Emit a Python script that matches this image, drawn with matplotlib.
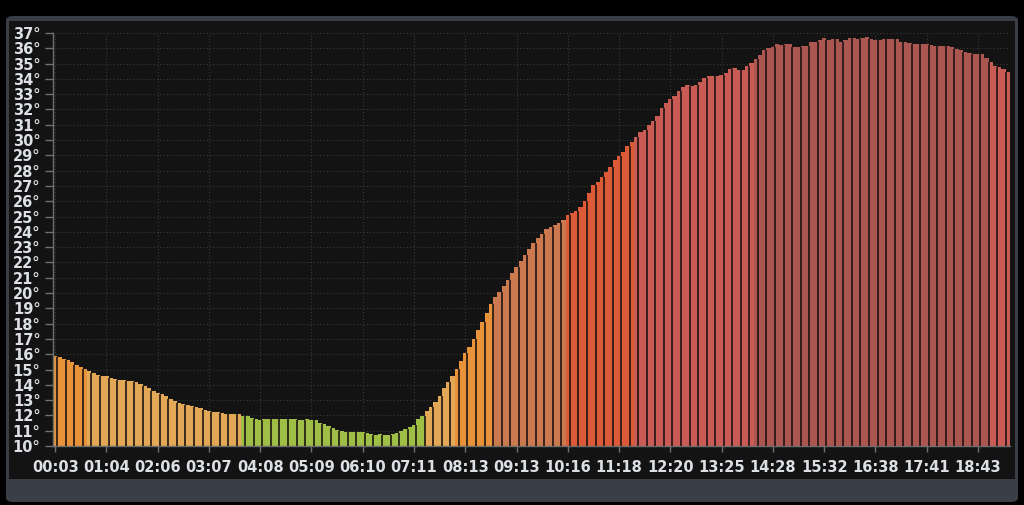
import matplotlib
matplotlib.use('Agg')
import matplotlib.pyplot as plt
from matplotlib.patches import FancyBboxPatch, Rectangle
import numpy as np

# temperature readings, one every ~5 minutes
temps = [
    15.90, 15.82, 15.69, 15.60, 15.47, 15.29, 15.16, 15.05, 14.88, 14.77,
    14.66, 14.58, 14.58, 14.47, 14.38, 14.34, 14.34, 14.27, 14.27, 14.18,
    14.07, 13.90, 13.81, 13.62, 13.49, 13.38, 13.25, 13.05, 12.92, 12.81,
    12.72, 12.66, 12.60, 12.55, 12.46, 12.35, 12.29, 12.24, 12.22, 12.16,
    12.11, 12.11, 12.07, 12.07, 11.98, 11.94, 11.80, 11.79, 11.70, 11.76,
    11.76, 11.79, 11.79, 11.79, 11.79, 11.79, 11.76, 11.68, 11.68, 11.79,
    11.72, 11.68, 11.53, 11.42, 11.31, 11.20, 11.07, 10.96, 10.89, 10.89,
    10.89, 10.89, 10.89, 10.85, 10.78, 10.74, 10.78, 10.72, 10.72, 10.76,
    10.83, 10.98, 11.09, 11.26, 11.39, 11.76, 11.96, 12.27, 12.55, 12.88,
    13.27, 13.77, 14.18, 14.58, 15.03, 15.58, 16.08, 16.45, 16.99, 17.56,
    18.08, 18.67, 19.26, 19.72, 20.09, 20.46, 20.85, 21.29, 21.72, 22.09,
    22.48, 22.85, 23.29, 23.62, 23.86, 24.16, 24.34, 24.44, 24.60, 24.77,
    25.10, 25.20, 25.36, 25.64, 26.03, 26.56, 27.06, 27.28, 27.60, 27.93,
    28.21, 28.69, 28.98, 29.19, 29.61, 29.89, 30.22, 30.54, 30.65, 30.98,
    31.26, 31.57, 32.07, 32.44, 32.66, 32.88, 33.18, 33.50, 33.60, 33.53,
    33.60, 33.81, 34.03, 34.18, 34.18, 34.18, 34.25, 34.40, 34.64, 34.68,
    34.58, 34.58, 34.84, 35.05, 35.29, 35.56, 35.88, 35.99, 36.10, 36.25,
    36.20, 36.25, 36.25, 36.10, 36.10, 36.16, 36.16, 36.38, 36.38, 36.53,
    36.69, 36.53, 36.58, 36.60, 36.43, 36.53, 36.69, 36.69, 36.60, 36.69,
    36.71, 36.60, 36.53, 36.53, 36.60, 36.60, 36.60, 36.60, 36.43, 36.38,
    36.32, 36.27, 36.27, 36.27, 36.27, 36.21, 36.16, 36.16, 36.16, 36.12,
    36.06, 35.95, 35.88, 35.77, 35.71, 35.60, 35.60, 35.60, 35.34, 35.12,
    34.86, 34.75, 34.64, 34.47,
]

tick_labels = ['00:03', '01:04', '02:06', '03:07', '04:08', '05:09', '06:10',
               '07:11', '08:13', '09:13', '10:16', '11:18', '12:20', '13:25',
               '14:28', '15:32', '16:38', '17:41', '18:43']
tick_every = 12

# colour bands by temperature
band_limits = [12, 15, 19.5, 25, 30, 35.2]
band_colors = ['#9fbe45', '#e2a855', '#e8923a', '#cd7950', '#dc5b36',
               '#c95b55', '#ab5651']


def temp_color(t):
    for lim, c in zip(band_limits, band_colors):
        if t < lim:
            return c
    return band_colors[-1]


bg = '#131313'
fig = plt.figure(figsize=(10.24, 5.05), dpi=100, facecolor='black')

# panel frame
fig.patches.append(FancyBboxPatch((6 / 1024, 3 / 505), 1012 / 1024, 486 / 505,
                                  boxstyle='round,pad=0,rounding_size=0.008',
                                  transform=fig.transFigure, facecolor='#3a3e46',
                                  edgecolor='none', zorder=0))
fig.patches.append(Rectangle((9 / 1024, 26 / 505), 1006 / 1024, 458 / 505,
                             transform=fig.transFigure, facecolor=bg,
                             edgecolor='none', zorder=0))

ax = fig.add_axes([53 / 1024, 1 - 446 / 505, 957 / 1024, 413 / 505])
ax.set_zorder(5)
ax.set_facecolor(bg)

x = np.arange(len(temps))
vals = np.array(temps)
ax.bar(x, vals - 10, bottom=10, width=1.0, color=[temp_color(t) for t in temps],
       linewidth=0, zorder=2)

# dark separators between pairs of bars
sep_x = x[1::2] - 0.5
sep_top = np.minimum(vals[1::2], vals[0::2][:len(sep_x)])
ax.vlines(sep_x, 10, sep_top, color='#1a1212', linewidth=1.3, alpha=0.9, zorder=3)

ax.set_xlim(-0.5, len(temps) - 0.5)
ax.set_ylim(10, 37)
ax.set_yticks(range(10, 38))
ax.set_yticklabels([f'{v}°' for v in range(10, 38)])
ax.set_xticks(x[::tick_every][:len(tick_labels)])
ax.set_xticklabels(tick_labels)

ax.grid(True, color='#3a3a3a', linestyle=(0, (1, 2)), linewidth=0.8, zorder=1)
for side in ['top', 'right']:
    ax.spines[side].set_visible(False)
for side in ['left', 'bottom']:
    ax.spines[side].set_color('#707070')
    ax.spines[side].set_linewidth(1.0)

ax.tick_params(axis='y', colors='#707070', length=6, width=1, pad=3,
               labelcolor='#dcdfe4', labelsize=10.5)
ax.tick_params(axis='x', colors='#707070', length=4, width=1, pad=6,
               labelcolor='#dcdfe4', labelsize=10.5)
for lab in ax.get_xticklabels() + ax.get_yticklabels():
    lab.set_fontweight('bold')

fig.savefig('out.png', dpi=100, facecolor='black')
